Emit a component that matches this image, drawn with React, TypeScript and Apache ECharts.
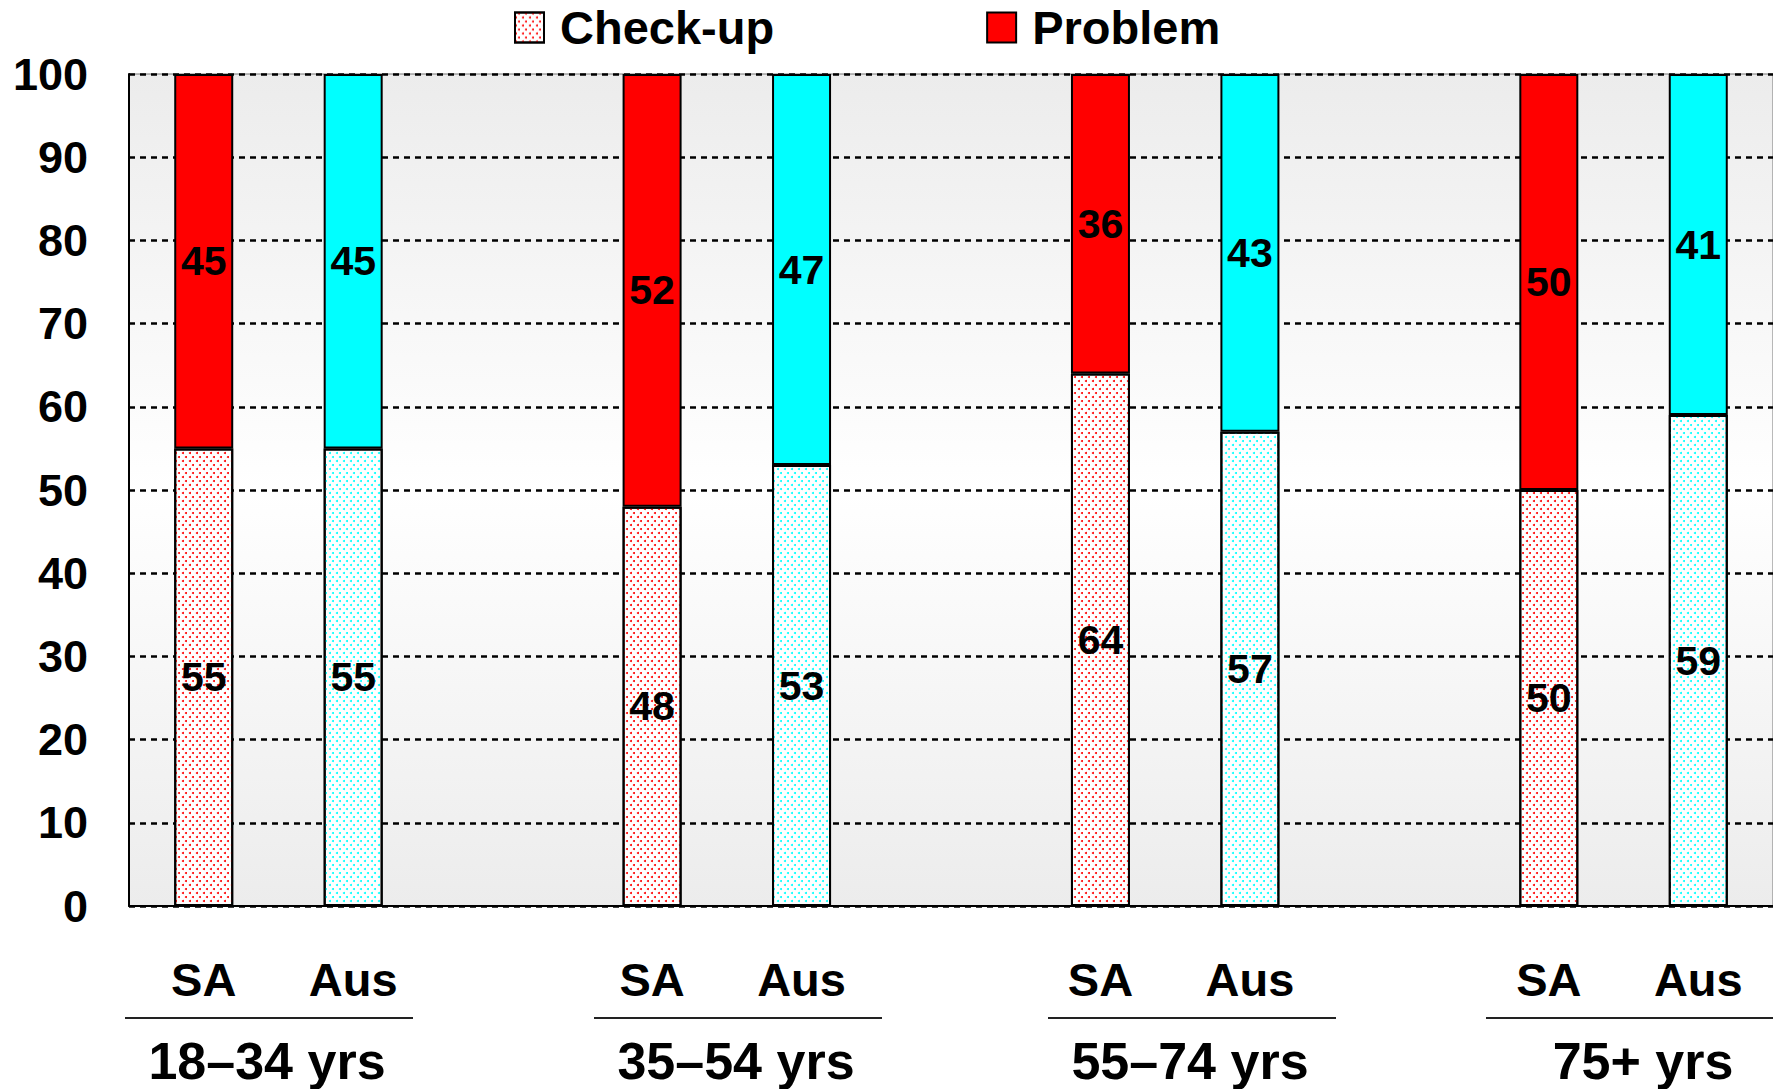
import React, { useEffect, useRef } from "react";
import * as echarts from "echarts";

const groups = ["18–34 yrs", "35–54 yrs", "55–74 yrs", "75+ yrs"];
const countries = ["SA", "Aus"];
const saCheckup = [55, 48, 64, 50];
const saProblem = [45, 52, 36, 50];
const ausCheckup = [55, 53, 57, 59];
const ausProblem = [45, 47, 43, 41];
const yTicks = [0, 100, 10];

const FONT = "'Liberation Sans', Arial, sans-serif";
const SA_COLOR = "#ff0000";
const AUS_COLOR = "#00ffff";

// layout (pixels)
const groupLabelX = [267, 736, 1190, 1643];
const sepLines = [
  [125, 413],
  [594, 882],
  [1048, 1336],
  [1486, 1775],
];

function dotted(color: string) {
  return {
    color: "#ffffff",
    decal: {
      symbol: "circle",
      symbolSize: 1,
      color: color,
      dashArrayX: [
        [2, 5],
        [0, 3, 2, 2],
      ],
      dashArrayY: [2, 2],
    },
  };
}

export default function App() {
  const ref = useRef<HTMLDivElement>(null);
  useEffect(() => {
    if (!ref.current) return;
    const chart = echarts.init(ref.current, null, { renderer: "svg" });

    const categories: string[] = [];
    const checkData: any[] = [];
    const probData: any[] = [];
    groups.forEach((g, gi) => {
      countries.forEach((c) => {
        categories.push(c);
        const isSA = c === "SA";
        const col = isSA ? SA_COLOR : AUS_COLOR;
        const cv = isSA ? saCheckup[gi] : ausCheckup[gi];
        const pv = isSA ? saProblem[gi] : ausProblem[gi];
        const ds = dotted(col);
        checkData.push({
          value: cv,
          itemStyle: { color: ds.color, decal: ds.decal, borderColor: "#000", borderWidth: 2 },
        });
        probData.push({
          value: pv,
          itemStyle: { color: col, borderColor: "#000", borderWidth: 2 },
        });
      });
      if (gi < groups.length - 1) {
        categories.push("");
        checkData.push("-");
        probData.push("-");
      }
    });

    const labelStyle = {
      show: true,
      position: "inside",
      fontSize: 41,
      fontWeight: "bold",
      fontFamily: FONT,
      color: "#000",
      formatter: (p: any) => String(p.value),
    };

    const graphics: any[] = [];
    sepLines.forEach(([x1, x2]) => {
      graphics.push({
        type: "line",
        shape: { x1, y1: 1018, x2, y2: 1018 },
        style: { stroke: "#222", lineWidth: 2 },
      });
    });
    groups.forEach((g, gi) => {
      graphics.push({
        type: "text",
        x: groupLabelX[gi],
        y: 1061,
        style: {
          text: g,
          font: `bold 52px ${FONT}`,
          fill: "#000",
          textAlign: "center",
          textVerticalAlign: "middle",
          align: "center",
          verticalAlign: "middle",
        },
      });
    });

    const s1 = dotted(SA_COLOR);
    chart.setOption({
      animation: false,
      backgroundColor: "#ffffff",
      legend: {
        left: 509,
        top: -1,
        itemWidth: 29,
        itemHeight: 30,
        itemGap: 212,
        icon: "rect",
        textStyle: {
          fontSize: 47,
          fontWeight: "bold",
          fontFamily: FONT,
          color: "#000",
          padding: [0, 0, 0, 11],
        },
        data: ["Check-up", "Problem"],
      },
      grid: {
        left: 129,
        top: 74,
        right: -2,
        bottom: 183,
        show: true,
        borderWidth: 1,
        borderColor: "#777",
        backgroundColor: {
          type: "linear",
          x: 0,
          y: 0,
          x2: 0,
          y2: 1,
          colorStops: [
            { offset: 0, color: "#ececec" },
            { offset: 0.5, color: "#ffffff" },
            { offset: 1, color: "#ececec" },
          ],
        },
      },
      xAxis: {
        type: "category",
        data: categories,
        axisLine: { show: true, lineStyle: { color: "#000", width: 2 } },
        axisTick: { show: false },
        axisLabel: {
          fontSize: 47,
          fontWeight: "bold",
          fontFamily: FONT,
          color: "#000",
          margin: 73,
          verticalAlign: "middle",
          interval: 0,
        },
        splitLine: { show: false },
      },
      yAxis: {
        type: "value",
        min: yTicks[0],
        max: yTicks[1],
        interval: yTicks[2],
        axisLine: { show: true, lineStyle: { color: "#000", width: 2 } },
        axisTick: { show: false },
        axisLabel: {
          fontSize: 45,
          fontWeight: "bold",
          fontFamily: FONT,
          color: "#000",
          margin: 41,
        },
        splitLine: {
          show: true,
          lineStyle: { color: "#000", width: 2.5, type: [6, 5] },
        },
      },
      series: [
        {
          name: "Check-up",
          type: "bar",
          stack: "t",
          barWidth: 59,
          itemStyle: { color: s1.color, decal: s1.decal, borderColor: "#000", borderWidth: 2 },
          label: labelStyle,
          data: checkData,
        },
        {
          name: "Problem",
          type: "bar",
          stack: "t",
          barWidth: 59,
          itemStyle: { color: SA_COLOR, borderColor: "#000", borderWidth: 2 },
          label: labelStyle,
          data: probData,
        },
      ],
      graphic: graphics,
    });
    return () => chart.dispose();
  }, []);
  return (
    <div
      ref={ref}
      style={{ position: "absolute", left: 0, top: 0, width: 1773, height: 1089 }}
    />
  );
}
